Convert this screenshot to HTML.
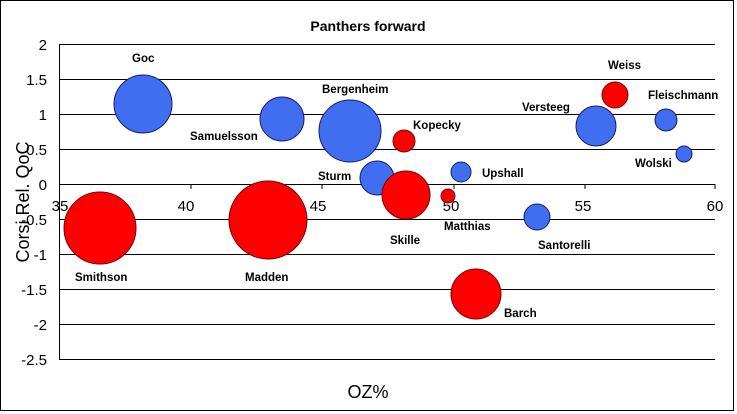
<!DOCTYPE html>
<html><head><style>body{margin:0;background:#fff}svg{display:block}</style></head><body>
<svg width="737" height="414" xmlns="http://www.w3.org/2000/svg" font-family="Liberation Sans, sans-serif">
<rect x="0" y="0" width="737" height="414" fill="#fff"/>
<rect x="0.5" y="0.5" width="733" height="410" fill="none" stroke="#000"/>
<text x="368" y="31" text-anchor="middle" font-size="14" font-weight="bold">Panthers forward</text>
<g stroke="#000" stroke-width="1">
<line x1="59" y1="44.5" x2="715" y2="44.5"/><line x1="59" y1="79.5" x2="715" y2="79.5"/>
<line x1="59" y1="114.5" x2="715" y2="114.5"/><line x1="59" y1="149.5" x2="715" y2="149.5"/>
<line x1="59" y1="184.5" x2="715" y2="184.5"/><line x1="59" y1="219.5" x2="715" y2="219.5"/>
<line x1="59" y1="254.5" x2="715" y2="254.5"/><line x1="59" y1="289.5" x2="715" y2="289.5"/>
<line x1="59" y1="324.5" x2="715" y2="324.5"/><line x1="59" y1="359.5" x2="715" y2="359.5"/>
<line x1="59.5" y1="44" x2="59.5" y2="359"/>
<line x1="191" y1="184" x2="191" y2="189"/><line x1="322" y1="184" x2="322" y2="189"/><line x1="454" y1="184" x2="454" y2="189"/><line x1="585" y1="184" x2="585" y2="189"/><line x1="715" y1="184" x2="715" y2="189"/>
</g>
<g font-size="15" text-anchor="end" fill="#000">
<text x="47" y="50">2</text><text x="47" y="85">1.5</text><text x="47" y="120">1</text><text x="47" y="155">0.5</text><text x="47" y="190">0</text><text x="47" y="225">-0.5</text><text x="47" y="260">-1</text><text x="47" y="295">-1.5</text><text x="47" y="330">-2</text><text x="47" y="365">-2.5</text>
</g>
<g font-size="15" text-anchor="middle">
<text x="60" y="211">35</text><text x="186" y="211">40</text><text x="318" y="211">45</text><text x="451" y="211">50</text><text x="583" y="211">55</text><text x="715" y="211">60</text>
</g>
<text x="368" y="398" text-anchor="middle" font-size="18">OZ%</text>
<text transform="translate(29,202) rotate(-90)" text-anchor="middle" font-size="18">Corsi Rel. QoC</text>
<g stroke="#1a1a6a" stroke-width="1" fill="#3f6ff0">
<circle cx="143" cy="104" r="29"/><circle cx="282" cy="119" r="22"/><circle cx="350" cy="131" r="31"/>
<circle cx="377" cy="178" r="17"/><circle cx="461" cy="172" r="10"/><circle cx="537" cy="217" r="13"/>
<circle cx="596" cy="126" r="20"/><circle cx="666" cy="120" r="11"/><circle cx="684" cy="154" r="8"/>
</g>
<g stroke="#700" stroke-width="1" fill="#ff0000">
<circle cx="404" cy="141" r="11"/><circle cx="406" cy="195" r="24"/><circle cx="448" cy="196" r="7"/>
<circle cx="100" cy="228" r="36"/><circle cx="268" cy="220" r="39"/><circle cx="476" cy="294" r="25"/>
<circle cx="615" cy="95" r="13"/>
</g>
<g font-size="11.5" font-weight="bold">
<text x="132" y="62">Goc</text><text x="190" y="140">Samuelsson</text><text x="322" y="93">Bergenheim</text>
<text x="413" y="129">Kopecky</text><text x="318" y="180">Sturm</text><text x="482" y="177">Upshall</text>
<text x="390" y="244">Skille</text><text x="444" y="230">Matthias</text><text x="75" y="281">Smithson</text>
<text x="245" y="281">Madden</text><text x="538" y="249">Santorelli</text><text x="504" y="317">Barch</text>
<text x="522" y="111">Versteeg</text><text x="608" y="69">Weiss</text><text x="648" y="99">Fleischmann</text>
<text x="635" y="167">Wolski</text>
</g>
</svg>
</body></html>
